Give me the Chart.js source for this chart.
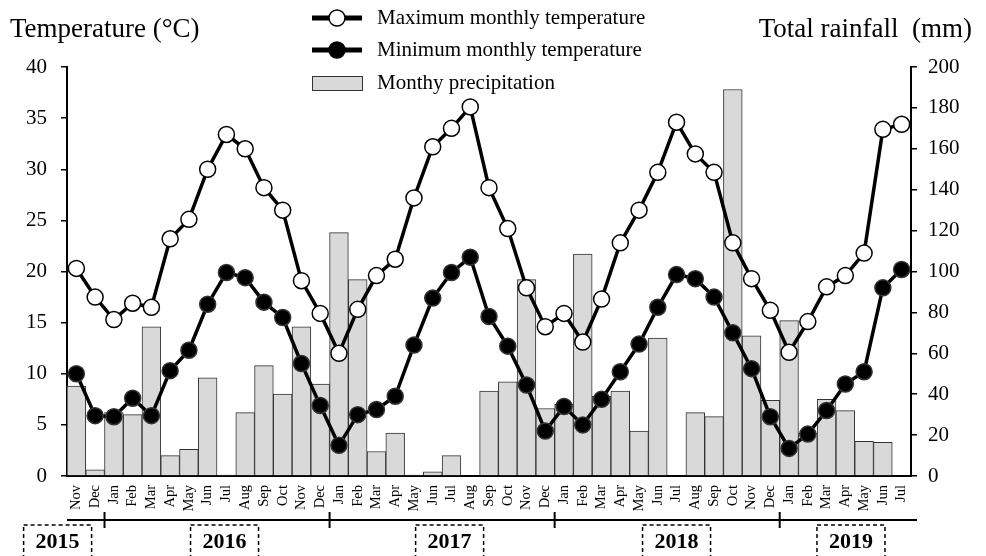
<!DOCTYPE html>
<html>
<head>
<meta charset="utf-8">
<script src="https://cdn.jsdelivr.net/npm/chart.js@4.4.1/dist/chart.umd.min.js"></script>
<style>
html, body { margin: 0; padding: 0; background: #fff; }
</style>
</head>
<body>
<canvas id="climateChart" width="986" height="556"></canvas>
<script>
// months from Nov 2015 to Jul 2019
const months = ['Nov', 'Dec',
    'Jan', 'Feb', 'Mar', 'Apr', 'May', 'Jun', 'Jul', 'Aug', 'Sep', 'Oct', 'Nov', 'Dec',
    'Jan', 'Feb', 'Mar', 'Apr', 'May', 'Jun', 'Jul', 'Aug', 'Sep', 'Oct', 'Nov', 'Dec',
    'Jan', 'Feb', 'Mar', 'Apr', 'May', 'Jun', 'Jul', 'Aug', 'Sep', 'Oct', 'Nov', 'Dec',
    'Jan', 'Feb', 'Mar', 'Apr', 'May', 'Jun', 'Jul'];

const maxTemp = [20.3, 17.5,
    15.3, 16.9, 16.5, 23.2, 25.1, 30.0, 33.4, 32.0, 28.2, 26.0, 19.1, 15.9,
    12.0, 16.3, 19.6, 21.2, 27.2, 32.2, 34.0, 36.1, 28.2, 24.2, 18.4, 14.6,
    15.9, 13.1, 17.3, 22.8, 26.0, 29.7, 34.6, 31.5, 29.7, 22.8, 19.3, 16.2,
    12.1, 15.1, 18.5, 19.6, 21.8, 33.9, 34.4];

const minTemp = [10.0, 5.9,
    5.8, 7.6, 5.9, 10.3, 12.3, 16.8, 19.9, 19.4, 17.0, 15.5, 11.0, 6.9,
    3.0, 6.0, 6.5, 7.8, 12.8, 17.4, 19.9, 21.4, 15.6, 12.7, 8.9, 4.4,
    6.8, 5.0, 7.5, 10.2, 12.9, 16.5, 19.7, 19.3, 17.5, 14.0, 10.5, 5.8,
    2.7, 4.1, 6.4, 9.0, 10.2, 18.4, 20.2];

const rainfall = [44, 3,
    31, 30, 73, 10, 13, 48, 0.5, 31, 54, 40, 73, 45,
    119, 96, 12, 21, 0.5, 2, 10, 0, 41.5, 46, 96, 33,
    35, 108.5, 39, 41.5, 22, 67.5, 0, 31, 29, 189, 68.5, 37,
    76, 21, 37.5, 32, 17, 16.5, 0];

const years = ['2015', '2016', '2017', '2018', '2019'];

const seriesNames = ['Maximum monthly temperature', 'Minimum monthly temperature', 'Monthy precipitation'];

const serif = '"Liberation Serif", "Times New Roman", serif';

// axis titles, legend and the year row under the month labels
const decorPlugin = {
    id: 'decor',
    afterDraw(chart) {
        const ctx = chart.ctx;
        const area = chart.chartArea;
        const xs = chart.scales.x;
        ctx.save();
        ctx.fillStyle = '#000';
        ctx.strokeStyle = '#000';

        ctx.font = '27px ' + serif;
        ctx.textBaseline = 'alphabetic';
        ctx.textAlign = 'left';
        ctx.fillText('Temperature (°C)', 10, 37);
        ctx.textAlign = 'right';
        ctx.fillText('Total rainfall  (mm)', 972, 37);

        // legend
        const lx = 312, lw = 50, tx = 377;
        const rows = [18, 50, 83];
        ctx.font = '21px ' + serif;
        ctx.textAlign = 'left';
        ctx.textBaseline = 'middle';
        for (let i = 0; i < 2; i++) {
            ctx.lineWidth = 5;
            ctx.beginPath();
            ctx.moveTo(lx, rows[i]);
            ctx.lineTo(lx + lw, rows[i]);
            ctx.stroke();
            ctx.beginPath();
            ctx.arc(lx + lw / 2, rows[i], 8, 0, Math.PI * 2);
            ctx.fillStyle = i === 0 ? '#fff' : '#000';
            ctx.fill();
            ctx.lineWidth = 1.5;
            ctx.stroke();
            ctx.fillStyle = '#000';
            ctx.fillText(seriesNames[i], tx, rows[i]);
        }
        ctx.fillStyle = '#d9d9d9';
        ctx.fillRect(lx, rows[2] - 7, lw, 14);
        ctx.lineWidth = 1;
        ctx.strokeStyle = '#333';
        ctx.strokeRect(lx + 0.5, rows[2] - 7 + 0.5, lw, 14);
        ctx.fillStyle = '#000';
        ctx.fillText(seriesNames[2], tx, rows[2]);

        // year axis
        const yLine = 520;
        ctx.strokeStyle = '#000';
        ctx.lineWidth = 2;
        ctx.beginPath();
        ctx.moveTo(area.left, yLine);
        ctx.lineTo(area.right + 6, yLine);
        ctx.stroke();
        const catW = xs.getPixelForValue(1) - xs.getPixelForValue(0);
        months.forEach((m, i) => {
            if (m === 'Jan') {
                const x = xs.getPixelForValue(i) - catW / 2;
                ctx.beginPath();
                ctx.moveTo(x, yLine - 8);
                ctx.lineTo(x, yLine + 8);
                ctx.stroke();
            }
        });

        const yearPos = [-1.0, 7.9, 19.9, 32.0, 41.3];
        ctx.font = 'bold 22px ' + serif;
        ctx.textAlign = 'center';
        ctx.textBaseline = 'middle';
        ctx.lineWidth = 1.5;
        ctx.setLineDash([4, 3]);
        years.forEach((y, i) => {
            const cx = xs.getPixelForValue(yearPos[i]);
            ctx.strokeRect(cx - 34, 525, 68, 40);
            ctx.fillText(y, cx, 542);
        });
        ctx.restore();
    }
};

const tickFont = { family: serif, size: 21 };

new Chart(document.getElementById('climateChart').getContext('2d'), {
    type: 'bar',
    data: {
        labels: months,
        datasets: [{
            type: 'line',
            label: seriesNames[0],
            data: maxTemp,
            yAxisID: 'y',
            borderColor: '#000',
            borderWidth: 3.5,
            pointRadius: 8,
            pointBorderWidth: 1.5,
            pointBackgroundColor: '#fff',
            pointBorderColor: '#000',
            tension: 0,
            order: 1
        }, {
            type: 'line',
            label: seriesNames[1],
            data: minTemp,
            yAxisID: 'y',
            borderColor: '#000',
            borderWidth: 3.5,
            pointRadius: 8,
            pointBorderWidth: 1.5,
            pointBackgroundColor: '#000',
            pointBorderColor: '#333',
            tension: 0,
            order: 2
        }, {
            type: 'bar',
            label: seriesNames[2],
            data: rainfall,
            yAxisID: 'y1',
            backgroundColor: '#d9d9d9',
            borderColor: '#333',
            borderWidth: 1,
            barPercentage: 1,
            categoryPercentage: 1,
            order: 3
        }]
    },
    options: {
        responsive: false,
        animation: false,
        layout: {
            padding: { top: 67, left: 0, right: 0, bottom: 36 }
        },
        plugins: {
            legend: { display: false },
            tooltip: { enabled: false }
        },
        scales: {
            x: {
                type: 'category',
                offset: true,
                grid: { drawOnChartArea: false, drawTicks: false },
                border: { color: '#000', width: 2 },
                ticks: {
                    autoSkip: false,
                    minRotation: 90,
                    maxRotation: 90,
                    padding: 9,
                    color: '#000',
                    font: { family: serif, size: 14.5 }
                },
                afterFit(scale) { scale.height = 44; }
            },
            y: {
                position: 'left',
                min: 0,
                max: 40,
                grid: { drawOnChartArea: false, drawTicks: true, tickLength: 6, color: '#000', lineWidth: 1.5 },
                border: { color: '#000', width: 2 },
                ticks: { stepSize: 5, color: '#000', padding: 14, font: tickFont },
                afterFit(scale) { scale.width = 67; }
            },
            y1: {
                position: 'right',
                min: 0,
                max: 200,
                grid: { drawOnChartArea: false, drawTicks: true, tickLength: 6, color: '#000', lineWidth: 1.5 },
                border: { color: '#000', width: 2 },
                ticks: { stepSize: 20, color: '#000', padding: 11, font: tickFont },
                afterFit(scale) { scale.width = 75; }
            }
        }
    },
    plugins: [decorPlugin]
});
</script>
</body>
</html>
